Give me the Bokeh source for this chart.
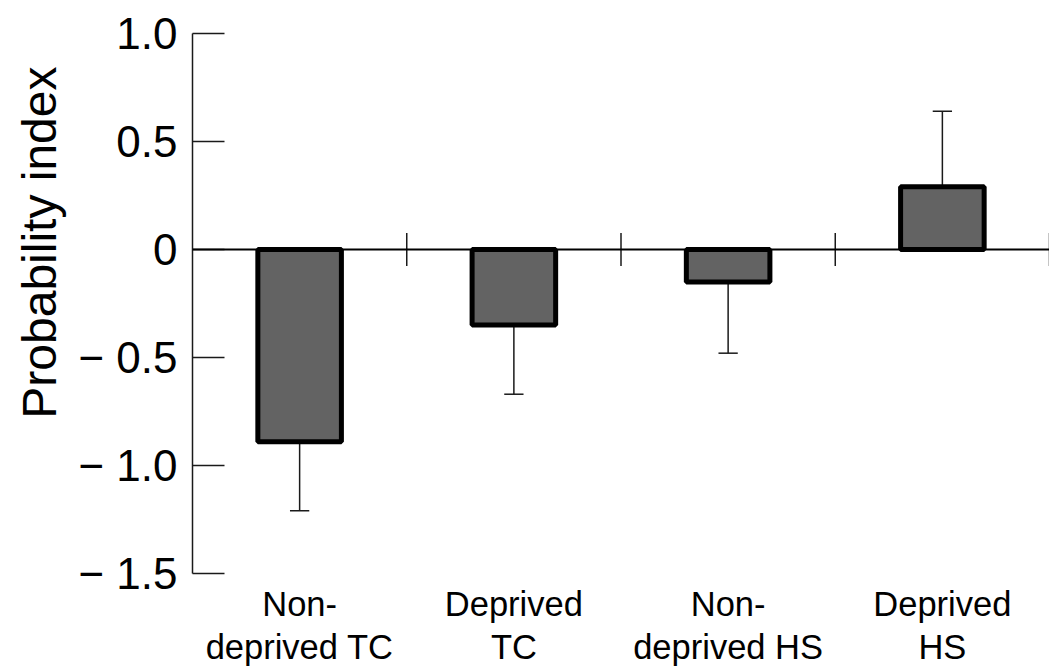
from bokeh.plotting import figure
from bokeh.models import Range1d, FixedTicker, Span, ColumnDataSource, Title
from bokeh.embed import file_html
from bokeh.resources import INLINE

# ---- data ----
categories = ["Non-\ndeprived TC", "Deprived\nTC", "Non-\ndeprived HS", "Deprived\nHS"]
values = [-0.89, -0.35, -0.15, 0.29]
errors = [0.32, 0.32, 0.33, 0.35]
y_ticks = [-1.5, -1, -0.5, 0, 0.5, 1]
y_tick_labels = ["\u2212 1.5", "\u2212 1.0", "\u2212 0.5", "0", "0.5", "1.0"]
y_title = "Probability index"

FONT = "Liberation Sans"
INK = "#1a1a1a"

x = list(range(1, len(categories) + 1))
err_end = [v + (e if v >= 0 else -e) for v, e in zip(values, errors)]
cap_half = 0.045
src = ColumnDataSource(dict(
    x=x, v=values, e=err_end,
    cl=[xi - cap_half for xi in x], cr=[xi + cap_half for xi in x],
))

p = figure(width=1049, height=671, output_backend="svg", toolbar_location=None,
           x_range=Range1d(0.5, len(categories) + 0.5), y_range=Range1d(-1.5, 1.0),
           min_border_left=192, min_border_right=0, min_border_top=33,
           min_border_bottom=98)
p.outline_line_color = None
p.xgrid.visible = False
p.ygrid.visible = False
p.background_fill_color = "white"
p.border_fill_color = "white"

# error bars (drawn first so bars cover the stem base)
p.segment(x0="x", y0="v", x1="x", y1="e", source=src, line_color=INK, line_width=1.5)
p.segment(x0="cl", y0="e", x1="cr", y1="e", source=src, line_color=INK, line_width=1.5)

# zero line and category boundary ticks
boundaries = [xi + 0.5 for xi in x]
p.segment(x0=boundaries, y0=[-0.076] * len(boundaries), x1=boundaries,
          y1=[0.076] * len(boundaries), line_color=INK, line_width=1.5)
p.add_layout(Span(location=0, dimension="width", line_color="black", line_width=2.2))

# bars
p.vbar(x="x", top="v", bottom=0, width=0.39, source=src,
       fill_color="#636363", line_color="black", line_width=5)

# y axis
ya = p.yaxis[0]
ya.ticker = FixedTicker(ticks=y_ticks, minor_ticks=[])
ya.major_label_overrides = {t: l for t, l in zip(y_ticks, y_tick_labels)}
ya.axis_line_color = INK
ya.axis_line_width = 1.5
ya.major_tick_line_color = INK
ya.major_tick_line_width = 1.5
ya.major_tick_in = 32
ya.major_tick_out = 0
ya.minor_tick_line_color = None
ya.major_label_standoff = 15
ya.major_label_text_font = FONT
ya.major_label_text_font_size = "44px"
ya.major_label_text_color = "black"

# x axis (category labels only)
xa = p.xaxis[0]
xa.ticker = FixedTicker(ticks=x, minor_ticks=[])
xa.major_label_overrides = {xi: c for xi, c in zip(x, categories)}
xa.axis_line_color = None
xa.major_tick_line_color = None
xa.minor_tick_line_color = None
xa.major_label_standoff = 5
xa.major_label_text_font = FONT
xa.major_label_text_font_size = "34.5px"
xa.major_label_text_line_height = 1.15
xa.major_label_text_color = "black"

# y title (left panel, placed toward the top like the reference)
p.add_layout(Title(text=y_title, align="right", offset=33, standoff=20,
                   text_font=FONT, text_font_size="48px", text_font_style="normal",
                   text_color="black"), "left")

open("out.html", "w").write(file_html(p, INLINE))
